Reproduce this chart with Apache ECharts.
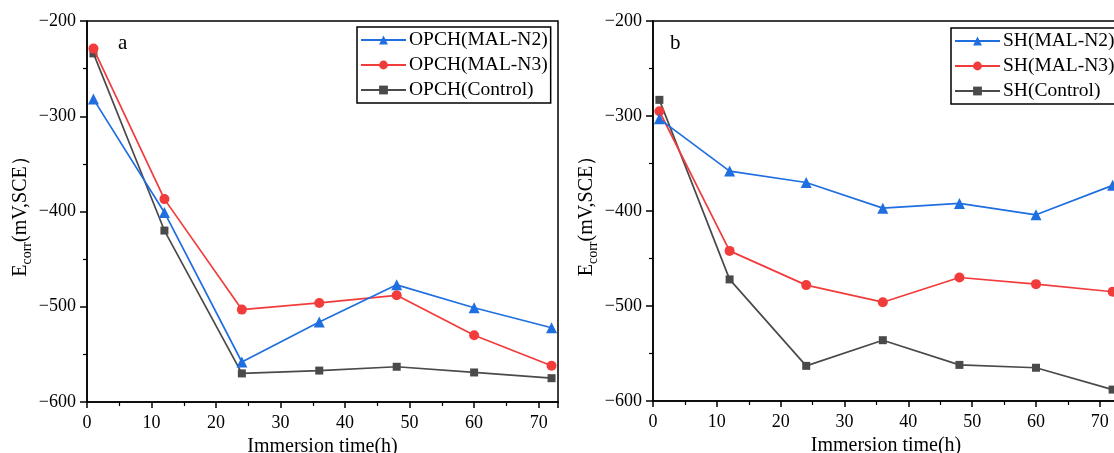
<!DOCTYPE html>
<html>
<head>
<meta charset="utf-8">
<script src="https://cdn.jsdelivr.net/npm/echarts@6/dist/echarts.min.js"></script>
<style>html,body{margin:0;padding:0;background:#fff}#c{width:1114px;height:453px}</style>
</head>
<body>
<div id="c"></div>
<script>
const times = [1, 12, 24, 36, 48, 60, 72];
const opchNames = ['OPCH(MAL-N2)', 'OPCH(MAL-N3)', 'OPCH(Control)'];
const shNames = ['SH(MAL-N2)', 'SH(MAL-N3)', 'SH(Control)'];
const opchN2 = [-282, -401, -558, -516, -477, -501, -522];
const opchN3 = [-229, -387, -503, -496, -488, -530, -562];
const opchCtrl = [-234, -420, -570, -567, -563, -569, -575];
const shN2 = [-303, -358, -370, -397, -392, -404, -373];
const shN3 = [-295, -442, -478, -496, -470, -477, -485];
const shCtrl = [-283, -472, -563, -536, -562, -565, -588];
const yTicks = [-600, -500, -400, -300, -200];
const xTicks = [0, 10, 20, 30, 40, 50, 60, 70];

const colors = ['#1f6fe0', '#f23b3b', '#4a4a4a'];
const symbols = ['triangle', 'circle', 'rect'];
const symSizes = [11, 10, 8];
const FONT = '"Liberation Serif", "DejaVu Serif", serif';

const chart = echarts.init(document.getElementById('c'));

function xAxis(gi) {
  return {
    type: 'value', gridIndex: gi, min: 0, max: 73, interval: 10,
    name: 'Immersion time(h)', nameLocation: 'middle', nameGap: 30,
    nameTextStyle: { fontFamily: FONT, fontSize: 20, color: '#000' },
    axisLine: { show: true, onZero: false, lineStyle: { color: '#000', width: 1.5 } },
    axisTick: { show: true, inside: false, length: 6, lineStyle: { color: '#000', width: 1.5 } },
    minorTick: { show: true, splitNumber: 2, length: 4, lineStyle: { color: '#000', width: 1.2 } },
    axisLabel: { fontFamily: FONT, fontSize: 18, color: '#000', margin: 12, showMaxLabel: false,
      formatter: v => (xTicks.indexOf(v) >= 0 ? String(v) : '') },
    splitLine: { show: false }
  };
}
function yAxis(gi) {
  return {
    type: 'value', gridIndex: gi, min: yTicks[0], max: yTicks[yTicks.length - 1], interval: 100,
    name: '{e|E}{s|corr}{e|(mV,SCE）}', nameLocation: 'middle', nameGap: 53, nameRotate: 90,
    nameTextStyle: {
      fontFamily: FONT, fontSize: 20, color: '#000',
      rich: {
        e: { fontFamily: FONT, fontSize: 20, color: '#000', lineHeight: 27, verticalAlign: 'middle' },
        s: { fontFamily: FONT, fontSize: 14, color: '#000', lineHeight: 27, verticalAlign: 'bottom' }
      }
    },
    axisLine: { show: true, onZero: false, lineStyle: { color: '#000', width: 1.5 } },
    axisTick: { show: true, inside: false, length: 7, lineStyle: { color: '#000', width: 1.5 } },
    minorTick: { show: true, splitNumber: 2, length: 4, lineStyle: { color: '#000', width: 1.2 } },
    axisLabel: { fontFamily: FONT, fontSize: 18, color: '#000', margin: 11,
      formatter: v => String(v).replace('-', '\u2212') },
    splitLine: { show: false }
  };
}
function mkSeries(name, data, k, gi) {
  return {
    type: 'line', name: name, xAxisIndex: gi, yAxisIndex: gi,
    data: times.map((t, i) => [t, data[i]]),
    symbol: symbols[k], symbolSize: symSizes[k], showAllSymbol: true,
    lineStyle: { color: colors[k], width: 1.7 },
    itemStyle: { color: colors[k] },
    emphasis: { disabled: true }, animation: false, z: 3 - k + 2
  };
}
function legend(names, left, top) {
  return {
    data: names, orient: 'vertical', left: left, top: top,
    itemWidth: 45, itemHeight: 11, itemGap: 5,
    padding: [3, 3, 3, 3], borderColor: '#000', borderWidth: 1.5,
    textStyle: { fontFamily: FONT, fontSize: 19.5, color: '#000', padding: [0, 0, 0, -2] },
    selectedMode: false
  };
}

chart.setOption({
  animation: false,
  backgroundColor: '#fff',
  grid: [
    { left: 87, top: 21, width: 471, height: 381, outerBoundsMode: 'none', containLabel: false, show: true, borderColor: '#000', borderWidth: 1.5, backgroundColor: 'transparent' },
    { left: 653, top: 21, width: 466, height: 380, outerBoundsMode: 'none', containLabel: false, show: true, borderColor: '#000', borderWidth: 1.5, backgroundColor: 'transparent' }
  ],
  xAxis: [xAxis(0), xAxis(1)],
  yAxis: [yAxis(0), yAxis(1)],
  legend: [legend(opchNames, 357, 27), legend(shNames, 951, 28)],
  graphic: [
    { type: 'text', left: 118, top: 33, style: { text: 'a', font: '21px ' + FONT, fill: '#000' } },
    { type: 'text', left: 670, top: 33, style: { text: 'b', font: '21px ' + FONT, fill: '#000' } }
  ],
  series: [
    mkSeries(opchNames[0], opchN2, 0, 0),
    mkSeries(opchNames[1], opchN3, 1, 0),
    mkSeries(opchNames[2], opchCtrl, 2, 0),
    mkSeries(shNames[0], shN2, 0, 1),
    mkSeries(shNames[1], shN3, 1, 1),
    mkSeries(shNames[2], shCtrl, 2, 1)
  ]
});
</script>
</body>
</html>
